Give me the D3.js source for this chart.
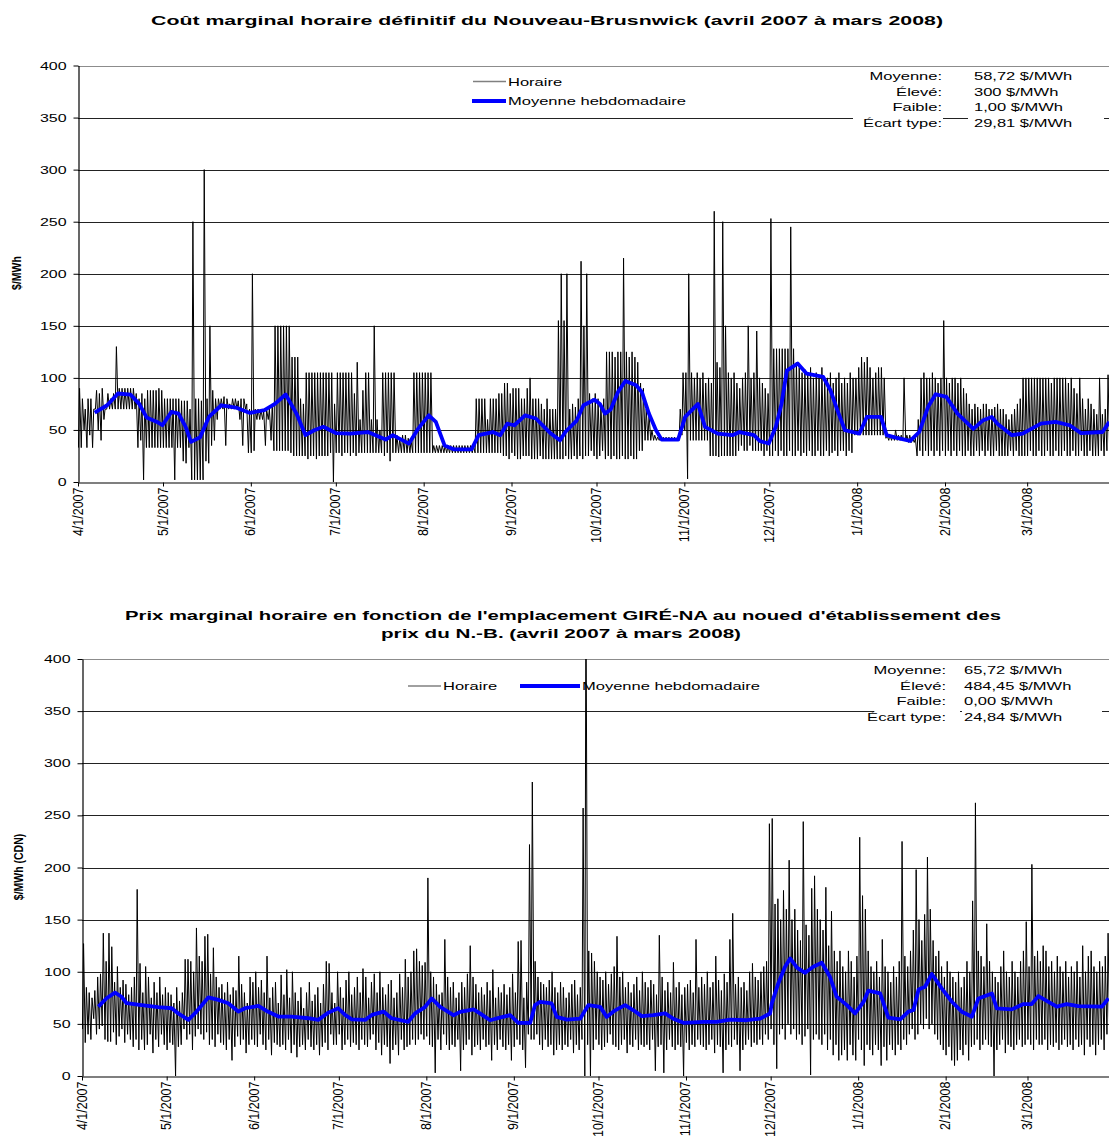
<!DOCTYPE html>
<html>
<head>
<meta charset="utf-8">
<script src="https://cdn.jsdelivr.net/npm/d3@7"></script>
<style>
  body { margin: 0; background: #fff; }
  svg text { font-family: "Liberation Sans", Arial, sans-serif; fill: #000; }
</style>
</head>
<body>
<svg id="chart" width="1109" height="1138"></svg>
<script>
// ---- data ----
const monthTicks = ["4/1/2007", "5/1/2007", "6/1/2007", "7/1/2007", "8/1/2007", "9/1/2007",
  "10/1/2007", "11/1/2007", "12/1/2007", "1/1/2008", "2/1/2008", "3/1/2008"];
const yTicks = [0, 50, 100, 150, 200, 250, 300, 350, 400];

// Panel 1 - daily high / low of hourly cost (day 0 = 4/1/2007)
const p1High = [
  90, 80, 70, 80, 80, 70, 88, 85, 90, 70,
  85, 80, 85, 130, 90, 90, 90, 90, 90, 90,
  85, 80, 85, 80, 88, 88, 88, 88, 90, 88,
  80, 80, 80, 80, 80, 80, 78, 78, 78, 70,
  250, 80, 80, 78, 300, 80, 150, 88, 80, 80,
  80, 82, 80, 75, 80, 80, 78, 80, 80, 75,
  70, 200, 70, 70, 70, 68, 70, 70, 75, 150,
  150, 150, 150, 150, 150, 120, 120, 120, 80, 75,
  105, 105, 105, 105, 105, 105, 105, 105, 105, 105,
  75, 105, 105, 105, 105, 105, 105, 85, 115, 60,
  88, 105, 105, 60, 150, 60, 50, 105, 105, 105,
  105, 105, 45, 42, 45, 45, 42, 40, 105, 105,
  105, 105, 105, 105, 105, 35, 35, 35, 35, 35,
  35, 35, 35, 35, 35, 35, 35, 35, 35, 35,
  80, 80, 80, 80, 60, 80, 80, 80, 85, 85,
  95, 95, 85, 90, 90, 90, 80, 80, 90, 100,
  80, 80, 80, 75, 70, 80, 70, 70, 70, 155,
  200, 155, 200, 70, 75, 72, 80, 212, 150, 200,
  85, 80, 85, 80, 75, 80, 125, 125, 125, 120,
  125, 125, 215, 125, 120, 125, 120, 115, 95, 90,
  70, 65, 50, 45, 43, 43, 43, 43, 43, 43,
  43, 43, 70, 105, 105, 200, 105, 100, 105, 100,
  105, 95, 100, 95, 260, 115, 110, 250, 150, 105,
  100, 105, 95, 90, 100, 105, 150, 100, 105, 145,
  100, 95, 90, 85, 253, 128, 128, 128, 128, 128,
  128, 245, 128, 115, 110, 105, 108, 105, 110, 100,
  105, 100, 110, 100, 100, 105, 95, 100, 105, 95,
  100, 95, 105, 100, 100, 110, 120, 115, 120, 110,
  100, 105, 110, 110, 100, 45, 45, 45, 50, 45,
  45, 100, 45, 45, 42, 42, 60, 100, 105, 100,
  100, 105, 100, 95, 100, 155, 100, 95, 100, 100,
  95, 100, 90, 85, 75, 70, 75, 72, 70, 75,
  75, 70, 70, 72, 75, 70, 70, 65, 60, 65,
  70, 75, 80, 100, 100, 100, 100, 100, 100, 100,
  100, 100, 100, 95, 100, 100, 100, 100, 100, 95,
  100, 90, 85, 100, 80, 70, 80, 75, 70, 65,
  100, 65, 70, 103, 100, 85
];
const p1Low = [
  33, 33, 50, 33, 45, 33, 70, 50, 40, 60,
  70, 70, 70, 70, 70, 70, 70, 70, 70, 70,
  70, 33, 40, 2, 33, 33, 33, 33, 33, 33,
  33, 33, 33, 33, 2, 33, 33, 20, 18, 33,
  2, 2, 2, 2, 2, 20, 18, 35, 40, 60,
  70, 70, 35, 70, 70, 70, 70, 60, 35, 70,
  28, 28, 30, 60, 60, 60, 35, 60, 40, 30,
  30, 30, 30, 30, 30, 28, 25, 25, 25, 25,
  25, 22, 25, 25, 22, 25, 25, 25, 25, 28,
  0, 28, 28, 25, 28, 28, 25, 28, 25, 28,
  28, 28, 28, 28, 28, 28, 28, 28, 25, 28,
  20, 28, 28, 28, 28, 28, 28, 28, 28, 28,
  28, 28, 28, 28, 28, 28, 28, 28, 28, 28,
  28, 28, 28, 28, 28, 28, 28, 28, 28, 28,
  28, 28, 28, 28, 28, 28, 28, 28, 28, 28,
  25, 25, 22, 28, 25, 22, 22, 25, 25, 25,
  22, 22, 22, 25, 22, 22, 22, 22, 22, 22,
  22, 22, 25, 22, 22, 25, 22, 25, 22, 25,
  25, 30, 25, 22, 25, 30, 22, 25, 22, 25,
  22, 22, 25, 22, 22, 25, 22, 22, 30, 30,
  40, 40, 40, 40, 40, 40, 40, 40, 40, 40,
  40, 40, 40, 45, 50, 3, 40, 40, 40, 40,
  40, 40, 40, 25, 25, 25, 24, 25, 25, 25,
  25, 25, 25, 30, 35, 30, 30, 35, 30, 30,
  30, 30, 25, 30, 25, 25, 30, 25, 30, 25,
  25, 30, 25, 25, 30, 25, 28, 25, 30, 25,
  25, 30, 25, 25, 30, 25, 28, 30, 25, 30,
  30, 25, 30, 28, 45, 45, 45, 45, 45, 45,
  45, 45, 45, 45, 45, 42, 40, 40, 40, 40,
  40, 40, 40, 38, 38, 38, 25, 30, 25, 30,
  25, 30, 25, 30, 25, 30, 25, 30, 25, 30,
  25, 30, 25, 25, 30, 25, 25, 30, 25, 30,
  25, 30, 25, 25, 30, 25, 25, 25, 25, 30,
  25, 30, 25, 25, 25, 25, 30, 25, 25, 30,
  25, 25, 30, 25, 25, 30, 25, 25, 30, 25,
  25, 30, 25, 25, 30, 25, 25, 30, 25, 25,
  25, 30, 25, 30, 25, 30
];
// Panel 1 - weekly average (day offset, $/MWh)
const p1WeekDay = [5.9, 10.3, 14.1, 18.5, 21.6, 24.2, 27.9, 29.8, 33, 35.5, 38, 39.9, 43.1, 46.2, 50.6,
  55.7, 60.7, 65.8, 69.5, 73.3, 77.1, 80.3, 83.4, 86.6, 91, 96, 102.3, 108.6, 111.1, 116.8, 120,
  123.8, 126.3, 129.4, 132.6, 138.9, 141.4, 146.4, 149, 151.5, 154, 157.8, 161.6, 166.9, 170.1,
  172, 176, 178.4, 182.3, 184.2, 186, 188, 190.6, 193.2, 197, 199, 201.5, 204, 206, 211.8, 214.3,
  218.8, 221.3, 225.8, 231, 233.5, 238.6, 240.6, 243.8, 246.3, 248.3, 250.2, 254, 257.2, 263,
  265.6, 268, 270.7, 275.8, 278.4, 283.4, 285.4, 288.6, 293.7, 296.9, 300, 302.7, 306.5, 310.4,
  316, 319.3, 322.5, 324.5, 329.6, 333.4, 339.8, 345, 350, 354, 361.6, 364];
const p1WeekAvg = [66.7, 73.7, 85, 84, 75, 62, 57.7, 54.5, 67.3, 65.7, 53, 38.5, 43, 62.5, 73.7,
  71.5, 66.3, 69, 75, 84, 65.7, 45, 49.7, 53, 47, 46.5, 48, 40.7, 45, 36.9, 51,
  64, 57.7, 35, 31.4, 31.4, 45, 48, 45, 56, 54.5, 64, 61, 46.5, 40,
  48, 59, 73.7, 79, 75, 65.7, 69.6, 86.5, 97, 93, 86.5, 65.7, 49.7, 40.7, 40.7, 62.5,
  75, 53, 46.5, 45, 48, 45, 39.4, 37, 53, 75, 107, 113.8, 104, 101,
  88, 69, 49.7, 46.5, 62.5, 62.5, 45, 42.6, 39.4, 48, 72, 84.3, 81.7, 65.7,
  51, 59, 62.5, 56, 45, 46.5, 56, 57.7, 54.5, 47, 48, 57.7];

// Panel 2 - daily high / low of hourly LMP
const p2High = [
  127, 85, 80, 75, 82, 95, 98, 137, 110, 137,
  124, 90, 105, 85, 92, 88, 78, 85, 95, 179,
  108, 80, 105, 95, 75, 90, 80, 95, 78, 85,
  80, 78, 70, 85, 72, 80, 112, 112, 110, 100,
  142, 115, 110, 134, 136, 98, 123, 95, 85, 88,
  80, 90, 78, 85, 82, 115, 88, 80, 70, 95,
  90, 100, 85, 92, 80, 115, 75, 85, 90, 70,
  97, 78, 102, 75, 100, 80, 72, 85, 65, 80,
  90, 72, 78, 85, 70, 88, 110, 108, 80, 70,
  100, 85, 75, 92, 100, 78, 85, 95, 80, 103,
  95, 75, 90, 98, 80, 100, 85, 78, 88, 92,
  75, 80, 98, 85, 112, 95, 100, 120, 122, 110,
  106, 109, 190, 100, 95, 88, 78, 80, 131, 95,
  85, 90, 75, 80, 90, 85, 98, 125, 95, 88,
  80, 85, 78, 90, 82, 102, 75, 85, 80, 88,
  78, 85, 98, 80, 129, 130, 75, 90, 222, 282,
  110, 95, 90, 88, 85, 92, 100, 85, 80, 90,
  85, 75, 80, 88, 92, 78, 85, 257, 484, 120,
  118, 110, 100, 95, 92, 100, 88, 98, 105, 134,
  95, 100, 85, 90, 80, 88, 95, 82, 100, 90,
  85, 92, 88, 78, 135, 95, 82, 90, 80, 109,
  85, 90, 78, 85, 88, 92, 80, 131, 85, 95,
  88, 100, 85, 90, 115, 92, 82, 98, 90, 131,
  156, 88, 95, 85, 90, 82, 100, 108, 95, 92,
  100, 105, 110, 242, 247, 165, 170, 150, 178, 160,
  207, 150, 160, 140, 130, 244, 145, 135, 180, 192,
  160, 150, 140, 181, 125, 158, 120, 110, 120, 105,
  100, 120, 110, 95, 115, 229, 173, 160, 120, 105,
  100, 110, 95, 131, 105, 100, 90, 105, 95, 110,
  225, 115, 105, 120, 140, 198, 150, 130, 155, 210,
  160, 130, 115, 120, 105, 95, 110, 100, 95, 90,
  100, 85, 95, 110, 100, 168, 262, 120, 115, 105,
  146, 110, 100, 95, 90, 105, 120, 100, 95, 110,
  100, 95, 110, 120, 148, 105, 203, 115, 120, 110,
  125, 120, 105, 110, 100, 115, 105, 100, 110, 95,
  105, 100, 110, 95, 125, 100, 115, 120, 105, 100,
  110, 105, 115, 137, 120, 135
];
const p2Low = [
  45, 32, 40, 35, 55, 40, 45, 48, 35, 33,
  33, 42, 30, 38, 45, 32, 40, 35, 28, 35,
  25, 35, 25, 30, 40, 22, 35, 28, 40, 30,
  25, 32, 30, 0, 28, 30, 45, 35, 40, 25,
  38, 45, 40, 35, 42, 30, 35, 28, 40, 32,
  30, 25, 35, 15, 28, 38, 30, 35, 22, 30,
  35, 30, 28, 40, 30, 25, 35, 20, 32, 30,
  28, 30, 25, 35, 22, 30, 18, 28, 30, 25,
  35, 28, 25, 30, 20, 28, 32, 25, 40, 30,
  30, 40, 25, 30, 35, 28, 32, 30, 25, 35,
  30, 28, 35, 40, 25, 32, 20, 30, 28, 12,
  25, 30, 20, 35, 25, 28, 30, 35, 30, 35,
  40, 35, 38, 30, 28, 3, 35, 25, 40, 30,
  25, 30, 28, 35, 5, 25, 30, 35, 20, 28,
  30, 25, 35, 28, 30, 15, 30, 25, 35, 28,
  25, 30, 15, 28, 35, 30, 25, 8, 40, 35,
  35, 40, 30, 25, 35, 28, 30, 20, 25, 30,
  25, 30, 28, 35, 22, 30, 25, 35, 0, 30,
  0, 25, 35, 30, 25, 28, 32, 40, 30, 28,
  25, 30, 35, 22, 30, 28, 35, 25, 30, 28,
  30, 25, 35, 5, 28, 30, 3, 25, 35, 28,
  25, 30, 28, 0, 32, 25, 30, 28, 35, 30,
  28, 25, 30, 35, 22, 30, 28, 3, 25, 30,
  28, 35, 30, 5, 25, 30, 35, 28, 32, 30,
  35, 30, 40, 35, 45, 30, 7, 40, 45, 35,
  50, 40, 45, 35, 40, 30, 38, 45, 1, 35,
  40, 35, 30, 40, 25, 35, 20, 30, 15, 20,
  25, 15, 30, 20, 15, 35, 25, 10, 30, 25,
  20, 30, 25, 10, 28, 15, 30, 25, 20, 30,
  25, 35, 30, 40, 45, 35, 40, 50, 45, 55,
  45, 50, 40, 35, 30, 25, 20, 28, 15, 10,
  15, 25, 20, 30, 15, 28, 30, 35, 25, 30,
  35, 30, 28, 0, 25, 30, 35, 22, 30, 28,
  25, 30, 35, 28, 30, 35, 30, 25, 35, 30,
  30, 35, 25, 30, 28, 32, 25, 30, 35, 28,
  30, 25, 35, 28, 30, 20, 35, 28, 30, 20,
  30, 35, 25, 40, 35, 30
];
const p2WeekDay = [5.8, 8.7, 11.7, 14, 15.8, 21.1, 27, 31.8, 34.1, 37.7, 40.6, 44.8, 48.3, 51.8, 55.4,
  57.8, 62.5, 65.4, 69.6, 74.3, 80.2, 83.7, 87.3, 90.8, 93.2, 95.6, 100.3, 102.7, 106.8, 109.7,
  115.6, 118, 121.5, 123.9, 126.9, 131.6, 134, 138.7, 141, 144.6, 148, 151.7, 154.6, 158.8, 160.5,
  162.3, 166.4, 168.2, 171.8, 176.5, 179.4, 183.6, 185.9, 188.9, 192.4, 195.4, 198.3, 202.4, 206.6,
  209.5, 213.1, 220.2, 224.9, 229.6, 235.5, 240.3, 243.8, 244.4, 246.7, 249.1, 250.9, 253.3, 256.2,
  259.1, 262.1, 265, 267.4, 271, 273.9, 276.9, 278.6, 282.8, 285.7, 289.9, 292.8, 294.6, 296.4,
  298.7, 301.1, 304.6, 308.2, 311.7, 315.3, 317.6, 322.4, 324.1, 329.4, 333.6, 336.5, 338.9, 342.4,
  345.4, 348.9, 353, 361.3, 363.7];
const p2WeekAvg = [66.6, 74.6, 80, 76, 69.8, 68, 66, 65, 60, 53.8, 61.8, 75.5, 73, 69.8, 61.8,
  65, 67.2, 62.4, 57, 57, 55.4, 53.8, 60.8, 65, 58.6, 54.4, 53.8, 58.6, 61.8, 55.4,
  52, 60, 66, 74.4, 66.3, 58.3, 61.5, 63.8, 60, 53.5, 56, 58.3, 51, 51, 68,
  71, 69.6, 56.7, 54, 55, 68, 66.3, 56.7, 63, 68, 63, 57.4, 58.3, 60,
  55, 51, 52, 52, 54, 53.5, 55, 60, 69.6, 88.8, 104.8, 112.8, 104, 99,
  104.8, 108.6, 95.2, 76, 68, 60, 71, 81.8, 79.2, 56, 54.3, 61.7, 63.3, 83,
  85.6, 97.8, 84, 71.2, 61.7, 56.9, 74.4, 79.2, 64.9, 63.9, 69, 69, 76.7, 71.2,
  66.5, 69, 67, 66.5, 74.4];

// ---- drawing ----
const svg = d3.select("#chart");
const start = new Date(2007, 3, 1), end = new Date(2008, 3, 1);
const dayToDate = t => new Date(start.getTime() + t * 864e5);
const parseTick = d3.timeParse("%m/%d/%Y");
const fmtTick = d3.timeFormat("%-m/%-d/%Y");

function widen(sel, k) {
  sel.each(function() {
    const w = this.getComputedTextLength();
    d3.select(this).attr("textLength", w * k).attr("lengthAdjust", "spacingAndGlyphs");
  });
}

function drawPanel(o) {
  const x = d3.scaleTime().domain([start, end]).range([o.left, o.right]);
  const y = d3.scaleLinear().domain([0, 400]).range([o.bottom, o.top]);
  const g = svg.append("g");
  const py = v => Math.round(y(v)) + 0.5;

  svg.append("clipPath").attr("id", "clip" + o.id)
    .append("rect")
      .attr("x", o.left).attr("y", o.top)
      .attr("width", o.right - o.left).attr("height", o.bottom - o.top);

  // horizontal grid lines
  g.selectAll(".grid")
    .data(yTicks.filter(v => v > 0))
    .enter().append("line")
      .attr("x1", o.left).attr("x2", o.right)
      .attr("y1", d => py(d)).attr("y2", d => py(d))
      .attr("stroke", d => d === 400 ? "#8c8c8c" : "#222")
      .attr("stroke-width", 1.2);

  // hourly line (daily low / high swing)
  const pts = [];
  o.high.forEach((h, i) => {
    pts.push([i + 0.15, o.low[i]]);
    pts.push([i + 0.55, h]);
  });
  const hourly = d3.line()
    .x(d => x(dayToDate(d[0])))
    .y(d => y(d[1]));
  g.append("path")
    .datum(pts)
    .attr("clip-path", `url(#clip${o.id})`)
    .attr("d", hourly)
    .attr("fill", "none")
    .attr("stroke", "#000")
    .attr("stroke-width", 1);

  // weekly average
  const weekly = d3.line()
    .x((d, i) => x(dayToDate(o.weekDay[i])))
    .y(d => y(d));
  g.append("path")
    .datum(o.weekAvg)
    .attr("d", weekly)
    .attr("fill", "none")
    .attr("stroke", "#0000ff")
    .attr("stroke-width", 3.8)
    .attr("stroke-linejoin", "round");

  // axes
  const yAxis = g.append("g")
    .attr("transform", `translate(${o.left + 0.5},0)`)
    .call(d3.axisLeft(y).tickValues(yTicks).tickSize(5).tickSizeOuter(0).tickPadding(7));
  yAxis.select(".domain").attr("stroke", "#000").attr("stroke-width", 1.2);
  yAxis.selectAll("text").style("font-size", "11px").call(widen, 1.45);

  const xAxis = g.append("g")
    .attr("transform", `translate(0,${py(0)})`)
    .call(d3.axisBottom(x).tickValues(monthTicks.map(parseTick)).tickFormat(fmtTick)
      .tickSize(4).tickSizeOuter(0));
  xAxis.select(".domain").attr("stroke", "#000").attr("stroke-width", 1.2);
  xAxis.selectAll("text")
    .style("font-size", "12.5px")
    .style("text-anchor", "end")
    .attr("x", 0).attr("y", 0).attr("dy", 0)
    .attr("transform", "rotate(-90) translate(-5,4) scale(1,1.1)");

  // y axis title
  svg.append("text")
    .attr("transform", `translate(${o.yLabelX},${o.yLabelY}) rotate(-90) scale(1,1.3)`)
    .style("text-anchor", "middle")
    .style("font-size", "10.5px")
    .style("font-weight", "bold")
    .text(o.yLabel);

  // legend
  o.legend.forEach(l => {
    svg.append("line")
      .attr("x1", l.x1).attr("x2", l.x2).attr("y1", l.y).attr("y2", l.y)
      .attr("stroke", l.color).attr("stroke-width", l.width);
    svg.append("text")
      .attr("x", l.x2 + 2).attr("y", l.y + 4)
      .style("font-size", "11px")
      .text(l.label)
      .call(widen, 1.5);
  });

  // stats box
  svg.append("rect")
    .attr("x", o.stats.boxL[0]).attr("width", o.stats.boxL[1] - o.stats.boxL[0])
    .attr("y", o.stats.y[0] - 12).attr("height", o.stats.y[3] - o.stats.y[0] + 16)
    .attr("fill", "#fff");
  svg.append("rect")
    .attr("x", o.stats.boxR[0]).attr("width", o.stats.boxR[1] - o.stats.boxR[0])
    .attr("y", o.stats.y[0] - 12).attr("height", o.stats.y[3] - o.stats.y[0] + 16)
    .attr("fill", "#fff");
  o.stats.labels.forEach((t, i) => {
    svg.append("text")
      .attr("x", o.stats.labelX).attr("y", o.stats.y[i])
      .style("font-size", "11px").style("text-anchor", "end")
      .text(t).call(widen, 1.5);
    svg.append("text")
      .attr("x", o.stats.valueX).attr("y", o.stats.y[i])
      .style("font-size", "11px")
      .text(o.stats.values[i]).call(widen, 1.5);
  });

  // title
  o.title.forEach(t => {
    svg.append("text")
      .attr("x", t.x).attr("y", t.y)
      .attr("textLength", t.len).attr("lengthAdjust", "spacingAndGlyphs")
      .style("font-size", "13px").style("font-weight", "bold")
      .text(t.text);
  });
}

const statLabels = ["Moyenne:", "Élevé:", "Faible:", "Écart type:"];

drawPanel({
  id: 1, left: 78, right: 1115, top: 65.5, bottom: 482,
  high: p1High, low: p1Low, weekDay: p1WeekDay, weekAvg: p1WeekAvg,
  yLabel: "$/MWh", yLabelX: 21, yLabelY: 273,
  legend: [
    { x1: 473, x2: 506, y: 81.5, color: "#808080", width: 1.5, label: "Horaire" },
    { x1: 472, x2: 506, y: 101, color: "#0000ff", width: 3.8, label: "Moyenne hebdomadaire" }
  ],
  stats: { labels: statLabels, values: ["58,72 $/MWh", "300 $/MWh", "1,00 $/MWh", "29,81 $/MWh"],
    labelX: 942, valueX: 974, y: [80, 96, 111, 127], boxL: [853, 943], boxR: [968, 1104] },
  title: [{ x: 151, y: 25, len: 792,
    text: "Coût marginal horaire définitif du Nouveau-Brusnwick (avril 2007 à mars 2008)" }]
});

drawPanel({
  id: 2, left: 82, right: 1115, top: 659, bottom: 1076,
  high: p2High, low: p2Low, weekDay: p2WeekDay, weekAvg: p2WeekAvg,
  yLabel: "$/MWh (CDN)", yLabelX: 23, yLabelY: 867,
  legend: [
    { x1: 408, x2: 441, y: 686, color: "#808080", width: 1.5, label: "Horaire" },
    { x1: 520, x2: 580, y: 686, color: "#0000ff", width: 3.8, label: "Moyenne hebdomadaire" }
  ],
  stats: { labels: statLabels, values: ["65,72 $/MWh", "484,45 $/MWh", "0,00 $/MWh", "24,84 $/MWh"],
    labelX: 946, valueX: 964, y: [674, 690, 705, 721], boxL: [874, 960], boxR: [962, 1102] },
  title: [
    { x: 125, y: 620, len: 876,
      text: "Prix marginal horaire en fonction de l'emplacement GIRÉ-NA au noued d'établissement des" },
    { x: 381, y: 638, len: 360, text: "prix du N.-B. (avril 2007 à mars 2008)" }
  ]
});
</script>
</body>
</html>
